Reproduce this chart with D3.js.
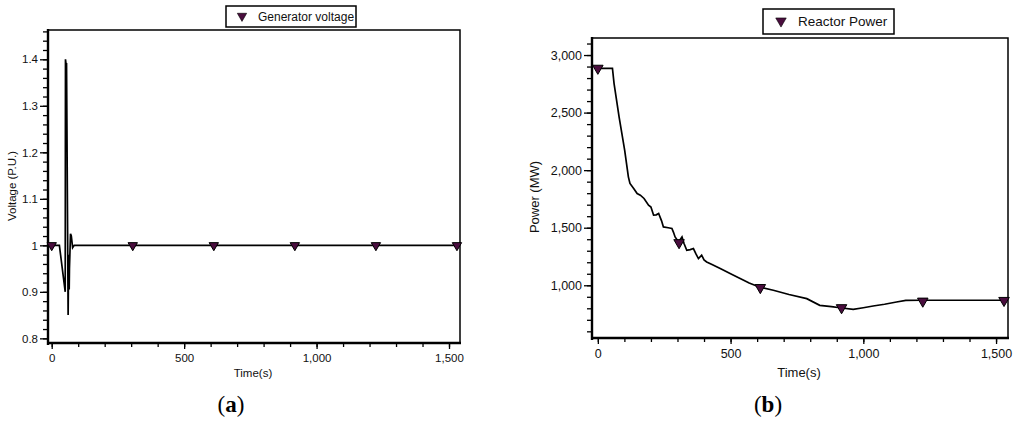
<!DOCTYPE html>
<html><head><meta charset="utf-8">
<script src="https://cdn.jsdelivr.net/npm/d3@7"></script>
<style>
html,body{margin:0;padding:0;background:#fff;}
svg{display:block;font-family:"Liberation Sans",Arial,sans-serif;}
</style></head>
<body>
<svg id="c" width="1024" height="423"></svg>
<script>
// ---- Data: (a) Generator voltage ----
const timeA = [0, 29, 51, 52, 54, 56, 62, 64, 66, 67, 71, 74, 79, 85, 1540];
const voltA = [1, 1, 0.9, 1.40, 1.39, 1.39, 0.85, 0.98, 0.905, 0.95, 1.025, 1.02, 0.995, 1, 1];
const markTimeA = [0, 306, 612, 918, 1224, 1530];
const markVoltA = [1, 1, 1, 1, 1, 1];
const yTicksA = [0.8, 0.9, 1, 1.1, 1.2, 1.3, 1.4];
const xTicks = [0, 500, 1000, 1500];

// ---- Data: (b) Reactor power ----
const timeB = [0, 55, 61, 80, 101, 115, 121, 135, 148, 160, 174, 191, 200, 210, 220, 229, 240, 247, 265, 279, 285, 291, 304, 317, 325, 335, 348, 360, 370, 379, 391, 400, 410, 430, 461, 500, 536, 570, 608, 661, 720, 787, 836, 880, 912, 962, 1000, 1037, 1080, 1125, 1160, 1219, 1300, 1540];
const powerB = [2885, 2885, 2754, 2463, 2174, 1942, 1884, 1840, 1797, 1783, 1754, 1696, 1680, 1609, 1612, 1623, 1560, 1507, 1500, 1493, 1460, 1420, 1377, 1420, 1360, 1304, 1310, 1319, 1270, 1232, 1261, 1220, 1203, 1180, 1145, 1100, 1058, 1020, 985, 957, 920, 884, 826, 815, 805, 791, 805, 820, 835, 855, 868, 870, 870, 870];
const markTimeB = [0, 306, 612, 918, 1224, 1530];
const markPowerB = [2885, 1370, 980, 805, 862, 868];
const yTicksB = [1000, 1500, 2000, 2500, 3000];

const svg = d3.select("#c");
const markFill = "#4a0d3e";

function panel(cfg) {
  const g = svg.append("g");
  const x = d3.scaleLinear().domain(cfg.xDom).range([cfg.L, cfg.R]);
  const y = d3.scaleLinear().domain(cfg.yDom).range([cfg.B, cfg.T]);

  // frame top/right
  g.append("path")
    .attr("d", `M${cfg.L},${cfg.T}H${cfg.R}V${cfg.B}`)
    .attr("fill", "none").attr("stroke", "#000").attr("stroke-width", 1.5);

  // minor ticks
  const yMinor = d3.axisLeft(y).tickValues(cfg.yMinor).tickSize(cfg.minorY).tickFormat("");
  const gyMin = g.append("g").attr("transform", `translate(${cfg.L},0)`).call(yMinor);
  gyMin.select(".domain").remove();
  const xMinor = d3.axisBottom(x).tickValues(cfg.xMinor).tickSize(4).tickFormat("");
  const gxMin = g.append("g").attr("transform", `translate(0,${cfg.B})`).call(xMinor);
  gxMin.select(".domain").remove();

  // major ticks
  const yAxis = d3.axisLeft(y).tickValues(cfg.yTicks).tickSize(8).tickPadding(2).tickFormat(cfg.yFmt);
  const gy = g.append("g").attr("transform", `translate(${cfg.L},0)`).call(yAxis);
  gy.select(".domain").remove();
  gy.selectAll("text").attr("font-size", cfg.fs).attr("fill", "#111").attr("font-family", "Liberation Sans, Arial");
  const xAxis = d3.axisBottom(x).tickValues(xTicks).tickSize(6).tickPadding(5).tickFormat(d3.format(","));
  const gx = g.append("g").attr("transform", `translate(0,${cfg.B})`).call(xAxis);
  gx.select(".domain").remove();
  gx.selectAll("text").attr("font-size", cfg.fs).attr("fill", "#111").attr("font-family", "Liberation Sans, Arial");
  g.selectAll(".tick line").attr("stroke", "#000").attr("stroke-width", 1.3);

  // axis lines (thick)
  g.append("line").attr("x1", cfg.L).attr("x2", cfg.L).attr("y1", cfg.T - 1).attr("y2", cfg.B + 2)
    .attr("stroke", "#000").attr("stroke-width", 2.4);
  g.append("line").attr("x1", cfg.L - 1).attr("x2", cfg.R + 1).attr("y1", cfg.B).attr("y2", cfg.B)
    .attr("stroke", "#000").attr("stroke-width", 2.4);

  // series line
  const pts = cfg.tx.map((t, i) => [t, cfg.ty[i]]);
  g.append("path").datum(pts)
    .attr("d", d3.line().x(d => x(d[0])).y(d => y(d[1])))
    .attr("fill", "none").attr("stroke", "#000").attr("stroke-width", 1.7)
    .attr("stroke-linejoin", "miter");

  // markers
  const sym = d3.symbol(d3.symbolTriangle, cfg.msize);
  g.selectAll("path.mk").data(cfg.mx.map((t, i) => [t, cfg.my[i]])).join("path")
    .attr("class", "mk")
    .attr("d", sym)
    .attr("transform", d => `translate(${x(d[0])},${y(d[1])}) rotate(180)`)
    .attr("fill", markFill).attr("stroke", "#000").attr("stroke-width", 1);

  // axis titles
  g.append("text").attr("x", cfg.xtX).attr("y", cfg.xtY).attr("text-anchor", "middle")
    .attr("font-size", cfg.tfs).attr("fill", "#111").text("Time(s)");
  g.append("text").attr("transform", `translate(${cfg.ytX},${cfg.ytY}) rotate(-90)`)
    .attr("text-anchor", "middle").attr("font-size", cfg.tfs).attr("fill", "#111").text(cfg.yTitle);

  // legend
  const lg = cfg.leg;
  g.append("rect").attr("x", lg.x).attr("y", lg.y).attr("width", lg.w).attr("height", lg.h)
    .attr("fill", "#fff").attr("stroke", "#000").attr("stroke-width", 1.5);
  g.append("path").attr("d", d3.symbol(d3.symbolTriangle, cfg.msize)())
    .attr("transform", `translate(${lg.mx},${lg.my}) rotate(180)`)
    .attr("fill", markFill).attr("stroke", "#000").attr("stroke-width", 0.6);
  g.append("text").attr("x", lg.tx).attr("y", lg.ty).attr("font-size", lg.fs)
    .attr("fill", "#111").text(lg.label);

  // sub caption
  const cap = svg.append("text").attr("x", cfg.capX).attr("y", 412).attr("text-anchor", "middle")
    .attr("font-family", "Liberation Serif, DejaVu Serif, serif").attr("font-size", 23).attr("fill", "#000");
  cap.append("tspan").text("(");
  cap.append("tspan").attr("font-weight", "bold").text(cfg.cap);
  cap.append("tspan").text(")");
}

panel({
  L: 48, R: 460, T: 30, B: 343,
  xDom: [-14, 1541.5], yDom: [0.79, 1.463],
  yTicks: yTicksA, yFmt: d => String(d),
  yMinor: d3.range(0.8, 1.4601, 0.02), xMinor: d3.range(0, 1501, 100), minorY: 5,
  tx: timeA, ty: voltA, mx: markTimeA, my: markVoltA, msize: 38,
  fs: 11.5, tfs: 11.5,
  xtX: 253, xtY: 377, ytX: 16, ytY: 186, yTitle: "Voltage (P.U.)",
  leg: {x: 226, y: 6, w: 130, h: 21, mx: 242, my: 16, tx: 258, ty: 21, fs: 12, label: "Generator voltage"},
  capX: 231, cap: "a"
});

panel({
  L: 592, R: 1008, T: 38, B: 338,
  xDom: [-22, 1545], yDom: [542, 3148],
  yTicks: yTicksB, yFmt: d3.format(","),
  yMinor: d3.range(600, 3101, 100), xMinor: d3.range(0, 1501, 100), minorY: 5,
  tx: timeB, ty: powerB, mx: markTimeB, my: markPowerB, msize: 48,
  fs: 12.5, tfs: 13,
  xtX: 799, xtY: 377, ytX: 539, ytY: 197, yTitle: "Power (MW)",
  leg: {x: 763, y: 9, w: 131, h: 25, mx: 781, my: 21, tx: 798, ty: 26, fs: 13.5, label: "Reactor Power"},
  capX: 768, cap: "b"
});
</script>
</body></html>
